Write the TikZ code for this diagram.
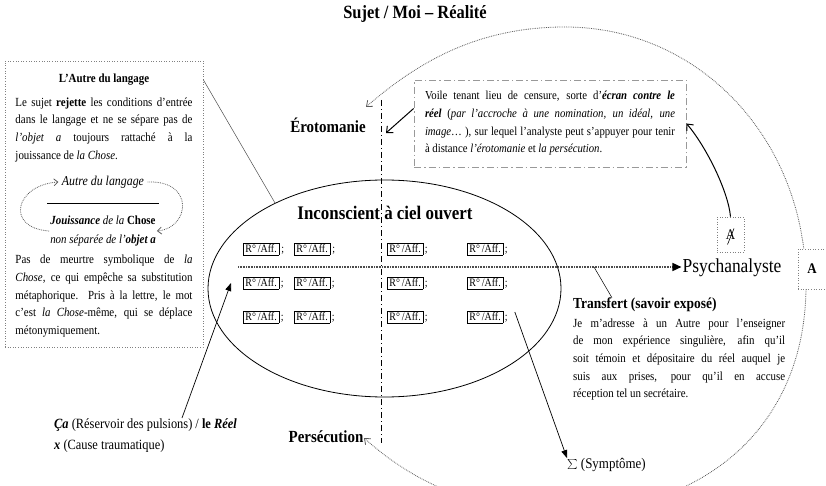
\documentclass[tikz,border=0pt]{standalone}
\usepackage{fontspec}
\setmainfont{Liberation Serif}[FakeStretch=0.88]
\usetikzlibrary{positioning,shapes.geometric,arrows.meta}

\newcommand{\raff}{\fbox{R°\,/Aff.}}
\setlength{\fboxsep}{1.8pt}

\begin{document}
\begin{tikzpicture}[x=1pt,y=-1pt,
	titre/.style={font=\bfseries\fontsize{18.7}{22}\selectfont},
	texte/.style={font=\fontsize{12.4}{17.7}\selectfont,align=justify,inner sep=0pt},
	cellule/.style={font=\fontsize{11.3}{13}\selectfont,anchor=west,inner sep=0pt},
	cadre/.style={draw=gray,dotted,line width=0.6pt},
	cadrevoile/.style={draw=gray!80,line width=0.8pt,dash pattern=on 7pt off 3pt on 1.5pt off 3pt},
	fleche/.style={-{Triangle[length=8pt,width=6pt]},line width=0.7pt},
	barbe/.style={-{Straight Barb[length=5pt,width=9pt]},line width=1pt},
	pointille/.style={gray!70!black,densely dotted,line width=0.8pt}]
	\useasboundingbox (0,0) rectangle (826,486);

	% titre
	\node[titre] (sujet) at (415,14) {Sujet / Moi – Réalité};

	% cadre de gauche
	\node[cadre,minimum width=198pt,minimum height=286pt] (autrebox) at (104,204) {};
	\node[font=\bfseries\fontsize{12.4}{14}\selectfont] (autretitre) at (104,80) {L’Autre du langage};
	\node[texte,text width=177pt,below=8pt of autretitre] (autrep1) {Le sujet \textbf{rejette} les conditions d’entrée\linebreak dans le langage et ne se sépare pas de\linebreak \textit{l’objet a} toujours rattaché à la\linebreak jouissance de \textit{la Chose}.};
	\node[font=\itshape\fontsize{13.5}{15}\selectfont] (autrelang) at (103,182) {Autre du langage};
	\coordinate (barg) at (47,203);
	\coordinate (bard) at (159,203);
	\node[font=\fontsize{12.4}{19}\selectfont,align=center,inner sep=1pt] (jouis) at (103,231) {\textbf{\textit{Jouissance}} \textit{de la} \textbf{Chose}\\\textit{non séparée de l’}\textbf{\textit{objet a}}};
	\node[texte,text width=177pt,anchor=north] (autrep2) at (104,255) {Pas de meurtre symbolique de \textit{la}\linebreak \textit{Chose}, ce qui empêche sa substitution\linebreak métaphorique. Pris à la lettre, le mot\linebreak c’est \textit{la Chose}-même, qui se déplace\linebreak métonymiquement.};

	\draw[line width=0.8pt] (barg) -- (bard);
	\draw[pointille,-{Straight Barb[length=4pt,width=7pt]}] (jouis.west) .. controls (5,228) and (15,185) .. (autrelang.west);
	\draw[pointille,-{Straight Barb[length=4pt,width=7pt]}] (autrelang.east) .. controls (195,180) and (190,228) .. (jouis.east);

	% inconscient
	\node[draw,ellipse,line width=0.8pt,minimum width=353pt,minimum height=217pt,inner sep=0pt] (ics) at (384.5,288.5) {};
	\node[titre,font=\bfseries\fontsize{19.2}{22}\selectfont] (icstitre) at (385,213) {Inconscient à ciel ouvert};
	\draw[gray!60!black,line width=0.5pt] ([yshift=-19pt]autrebox.north east) -- (ics.142);

	\node[cellule] (c11) at (243,249) {\raff\ ;};
	\node[cellule] (c12) at (294,249) {\raff\ ;};
	\node[cellule] (c13) at (387,249) {\raff\,;};
	\node[cellule] (c14) at (467,249) {\raff\,;};
	\node[cellule] (c21) at (243,283) {\raff\,;};
	\node[cellule] (c22) at (294,283) {\raff\,;};
	\node[cellule] (c23) at (387,283) {\raff\,;};
	\node[cellule] (c24) at (467,283) {\raff\,;};
	\node[cellule] (c31) at (243,317) {\raff\,;};
	\node[cellule] (c32) at (294,317) {\raff\,;};
	\node[cellule] (c33) at (387,317) {\raff\,;};
	\node[cellule] (c34) at (467,317) {\raff\,;};

	\coordinate (vhaut) at (381,100);
	\coordinate (vbas) at (381,443);
	\draw[line width=0.6pt,dash pattern=on 6pt off 3pt on 1pt off 3pt] (vhaut) -- (vbas);

	% erotomanie / persecution
	\node[font=\bfseries\fontsize{17}{20}\selectfont] (eroto) at (328,125) {Érotomanie};
	\node[font=\bfseries\fontsize{17}{20}\selectfont] (persec) at (326,437) {Persécution};

	\node[cadrevoile,texte,text width=250pt,inner xsep=11pt,minimum height=87pt,font=\fontsize{12.2}{17.7}\selectfont] (voile) at (550,123.5) {Voile tenant lieu de censure, sorte d’\textbf{\textit{écran contre le}}\linebreak \textbf{\textit{réel}} (\textit{par l’accroche à une nomination, un idéal, une}\linebreak \textit{image}\ldots\ ), sur lequel l’analyste peut s’appuyer pour tenir\linebreak à distance \textit{l’érotomanie} et \textit{la persécution}.};

	\coordinate (erotip) at (366,107);
	\coordinate (perstip) at (364,438);
	\coordinate (erofin) at (386,133);
	\draw[barbe] ([yshift=15pt]voile.west) -- (erofin);
	\draw[pointille,{Straight Barb[length=5pt,width=8pt]}-{Straight Barb[length=5pt,width=8pt]}] (erotip) .. controls (420,60) and (480,27) .. (565,27) .. controls (700,27) and (806,140) .. (806,285) .. controls (806,430) and (700,512) .. (565,512) .. controls (460,512) and (400,470) .. (perstip);

	% psychanalyste
	\node[font=\fontsize{19.8}{22}\selectfont,inner sep=1pt] (psy) at (732,268) {Psychanalyste};
	\coordinate (hdeb) at (238,267);
	\draw[gray!60!black,line width=1.6pt,dash pattern=on 0.8pt off 0.8pt,-{Triangle[color=black,length=9pt,width=8pt]}] (hdeb) -- (hdeb -| psy.west);

	\node[cadre,fill=white,minimum width=27pt,minimum height=35pt,font=\fontsize{14.7}{16}\selectfont] (abar) at (730.5,234.5) {A};
	\draw[line width=0.6pt] ([shift={(3.5pt,6pt)}]abar.center) -- ([shift={(-3pt,-10pt)}]abar.center);
	\node[cadre,fill=white,minimum width=28pt,minimum height=40pt,font=\bfseries\fontsize{14.7}{16}\selectfont] (grandA) at (812,269) {A};
	\draw[barbe] (abar.north) .. controls (728,190) and (705,145) .. (voile.east);

	% transfert
	\node[anchor=west,inner sep=0pt,font=\bfseries\fontsize{15.3}{18}\selectfont] (trans) at (573,305) {Transfert (savoir exposé)};
	\node[texte,text width=212pt,below=6pt of trans.south west,anchor=north west] (transp) {Je m’adresse à un Autre pour l’enseigner\linebreak de mon expérience singulière, afin qu’il\linebreak soit témoin et dépositaire du réel auquel je\linebreak suis aux prises, pour qu’il en accuse\linebreak réception tel un secrétaire.};
	\coordinate (tpt) at (594,267);
	\draw[line width=0.5pt] (tpt) -- ([xshift=39pt]trans.north west);

	% symptome
	\node[anchor=west,inner sep=0pt,font=\fontsize{14.7}{16}\selectfont] (sympt) at (567,465) {$\sum$ (Symptôme)};
	\draw[fleche] ([xshift=7pt,yshift=5pt]c34.east) -- (sympt.north west);

	% ca
	\node[anchor=north west,inner sep=0pt,align=left,font=\fontsize{14.1}{21}\selectfont] (ca) at (54,418) {\textbf{\textit{Ça}} (Réservoir des pulsions) / \textbf{le \textit{Réel}}\\\textbf{\textit{x}} (Cause traumatique)};
	\draw[fleche] ([xshift=128pt]ca.north west) -- ([xshift=-12pt]c21.west);
\end{tikzpicture}
\end{document}
